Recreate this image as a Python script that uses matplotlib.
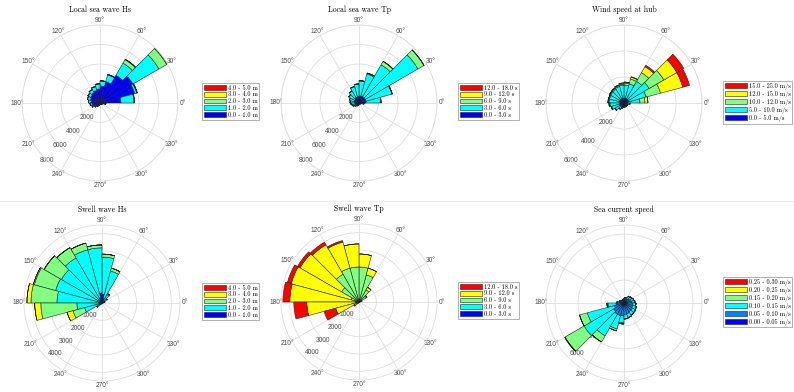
import numpy as np
import matplotlib.pyplot as plt
from matplotlib.patches import Patch
from matplotlib.lines import Line2D

W, H = 794, 392

# direction sectors (start angle, degrees), 15 deg wide
sectors = np.arange(0, 360, 15)

c5 = ['#0000ff', '#00ffff', '#80ff80', '#ffff00', '#ff0000']
c6 = ['#0000ff', '#0080ff', '#00ffff', '#80ff80', '#ffff00', '#ff0000']

hs_labels = ['0.0 - 1.0 m', '1.0 - 2.0 m', '2.0 - 3.0 m', '3.0 - 4.0 m', '4.0 - 5.0 m']
tp_labels = ['0.0 - 3.0 s', '3.0 - 6.0 s', '6.0 - 9.0 s', '9.0 - 12.0 s', '12.0 - 18.0 s']
ws_labels = ['0.0 - 5.0 m/s', '5.0 - 10.0 m/s', '10.0 - 12.0 m/s', '12.0 - 15.0 m/s', '15.0 - 25.0 m/s']
cur_labels = ['0.00 - 0.05 m/s', '0.05 - 0.10 m/s', '0.10 - 0.15 m/s',
              '0.15 - 0.20 m/s', '0.20 - 0.25 m/s', '0.25 - 0.30 m/s']

# occurrences per sector for each class
# Local sea wave Hs
lhs_0_1 = [2150, 3690, 3900, 3280, 2260, 1740, 1440, 1330, 1230, 1130, 1030, 920,
           820, 720, 510, 360, 250, 200, 150, 150, 150, 200, 250, 500]
lhs_1_2 = [1330, 210, 3080, 1440, 720, 510, 510, 410, 360, 310, 310, 260,
           200, 150, 100, 50, 20, 0, 0, 0, 0, 0, 0, 100]
lhs_2_3 = [50, 50, 920, 410, 50, 30, 20, 20, 10, 10, 10, 10,
           0, 0, 0, 0, 0, 0, 0, 0, 0, 0, 0, 0]
lhs_3_4 = [0, 0, 70, 50, 0, 0, 0, 0, 0, 0, 0, 0,
           0, 0, 0, 0, 0, 0, 0, 0, 0, 0, 0, 0]
lhs_4_5 = [0] * 24

# Local sea wave Tp
ltp_0_3 = [720, 720, 720, 720, 720, 720, 670, 620, 620, 510, 510, 460,
           410, 360, 310, 260, 200, 150, 150, 150, 150, 150, 150, 310]
ltp_3_6 = [1540, 2770, 6260, 3800, 2360, 1540, 1280, 1130, 820, 720, 510, 460,
           410, 310, 200, 100, 50, 0, 0, 0, 0, 0, 0, 200]
ltp_6_9 = [0, 40, 720, 410, 100, 30, 0, 0, 0, 0, 0, 0,
           0, 0, 0, 0, 0, 0, 0, 0, 0, 0, 0, 0]
ltp_9_12 = [0] * 24
ltp_12_18 = [0] * 24

# Wind speed at hub
ws_0_5 = [310, 380, 380, 380, 380, 380, 380, 350, 350, 350, 350, 350,
          350, 350, 350, 350, 350, 310, 310, 310, 310, 310, 310, 310]
ws_5_10 = [920, 1380, 1850, 1540, 1150, 1000, 1000, 960, 880, 850, 810, 810,
           730, 620, 420, 190, 80, 0, 0, 0, 0, 0, 0, 150]
ws_10_12 = [380, 1150, 1310, 770, 380, 150, 80, 80, 80, 60, 50, 50,
            50, 40, 30, 20, 0, 0, 0, 0, 0, 0, 0, 0]
ws_12_15 = [230, 1770, 1150, 540, 150, 80, 80, 40, 40, 40, 30, 30,
            30, 20, 20, 0, 0, 0, 0, 0, 0, 0, 0, 0]
ws_15_25 = [0, 540, 620, 120, 40, 0, 0, 0, 0, 0, 0, 0,
            0, 0, 0, 0, 0, 0, 0, 0, 0, 0, 0, 0]

# Swell wave Hs
shs_0_1 = [60, 60, 120, 170, 290, 520, 580, 290, 170, 170, 120, 120,
           120, 60, 60, 30, 30, 30, 30, 30, 30, 30, 30, 30]
shs_1_2 = [60, 120, 230, 400, 1620, 2130, 2600, 2890, 2830, 2540, 2650, 2480,
           1330, 980, 170, 90, 0, 0, 0, 0, 0, 0, 0, 0]
shs_2_3 = [0, 0, 0, 60, 170, 170, 170, 400, 690, 1150, 1270, 1500,
           2080, 690, 120, 0, 0, 0, 0, 0, 0, 0, 0, 0]
shs_3_4 = [0, 0, 0, 0, 0, 0, 0, 0, 0, 0, 60, 230,
           350, 350, 0, 0, 0, 0, 0, 0, 0, 0, 0, 0]
shs_4_5 = [0] * 24

# Swell wave Tp
stp_0_3 = [60, 60, 60, 60, 60, 60, 60, 60, 60, 60, 60, 60,
           60, 60, 60, 30, 30, 30, 30, 30, 30, 30, 30, 30]
stp_3_6 = [30, 30, 60, 60, 60, 60, 60, 60, 60, 60, 60, 60,
           60, 60, 30, 30, 0, 0, 0, 0, 0, 0, 0, 0]
stp_6_9 = [30, 90, 350, 690, 1500, 1900, 1900, 1900, 1730, 1040, 350, 120,
           60, 60, 30, 0, 0, 0, 0, 0, 0, 0, 0, 0]
stp_9_12 = [0, 0, 60, 170, 400, 750, 1330, 1560, 1960, 2770, 3580, 3750,
            2830, 1210, 170, 30, 0, 0, 0, 0, 0, 0, 0, 0]
stp_12_18 = [0, 0, 0, 0, 0, 0, 0, 90, 170, 170, 230, 400,
             750, 690, 60, 0, 0, 0, 0, 0, 0, 0, 0, 0]

# Sea current speed
cs_00_05 = [260, 260, 260, 260, 220, 220, 170, 170, 170, 170, 170, 220,
            260, 260, 260, 260, 260, 260, 260, 260, 260, 260, 260, 260]
cs_05_10 = [440, 350, 260, 170, 130, 90, 90, 90, 90, 130, 170, 220,
            440, 610, 780, 870, 870, 870, 780, 700, 610, 610, 520, 520]
cs_10_15 = [260, 260, 260, 260, 170, 130, 90, 40, 40, 40, 90, 170,
            700, 2440, 2970, 2180, 1220, 610, 350, 350, 350, 310, 350, 260]
cs_15_20 = [0, 0, 0, 0, 0, 0, 0, 0, 0, 0, 0, 0,
            90, 700, 1920, 610, 170, 90, 0, 0, 0, 0, 0, 0]
cs_20_25 = [0, 0, 0, 0, 0, 0, 0, 0, 0, 0, 0, 0,
            0, 0, 40, 0, 0, 0, 0, 0, 0, 0, 0, 0]
cs_25_30 = [0] * 24

panels = [
    ('Local sea wave Hs', [lhs_0_1, lhs_1_2, lhs_2_3, lhs_3_4, lhs_4_5], c5, hs_labels,
     8000, [2000, 4000, 6000, 8000], (100, 103), (202, 83)),
    ('Local sea wave Tp', [ltp_0_3, ltp_3_6, ltp_6_9, ltp_9_12, ltp_12_18], c5, tp_labels,
     8000, [2000, 4000, 6000, 8000], (359, 103), (458, 83)),
    ('Wind speed at hub', [ws_0_5, ws_5_10, ws_10_12, ws_12_15, ws_15_25], c5, ws_labels,
     6000, [2000, 4000, 6000], (624, 103), (723, 81)),
    ('Swell wave Hs', [shs_0_1, shs_1_2, shs_2_3, shs_3_4, shs_4_5], c5, hs_labels,
     4500, [1000, 2000, 3000, 4000], (102, 303), (202, 283)),
    ('Swell wave Tp', [stp_0_3, stp_3_6, stp_6_9, stp_9_12, stp_12_18], c5, tp_labels,
     4500, [1000, 2000, 3000, 4000], (359, 302), (458, 282)),
    ('Sea current speed', [cs_00_05, cs_05_10, cs_10_15, cs_15_20, cs_20_25, cs_25_30], c6, cur_labels,
     6800, [2000, 4000, 6000], (624, 303), (723, 277)),
]

serif = ['cmr10', 'DejaVu Serif']
sans = ['Liberation Sans', 'DejaVu Sans']
R = 78  # circle radius in pixels

fig = plt.figure(figsize=(W / 100, H / 100), dpi=100)

for title, data, colors, labels, rmax, rticks, (cx, cy), (lx, ly) in panels:
    ax = fig.add_axes([(cx - R) / W, (H - cy - R) / H, 2 * R / W, 2 * R / H], projection='polar')
    ax.set_axisbelow(True)
    theta = np.deg2rad(sectors + 7.5)
    bottom = np.zeros(len(sectors))
    handles = []
    for vals, col, lab in zip(data, colors, labels):
        vals = np.array(vals, dtype=float)
        ax.bar(theta, vals, width=np.deg2rad(15), bottom=bottom, color=col,
               edgecolor='#202020', linewidth=0.4, zorder=2)
        bottom += vals
        handles.append(Patch(facecolor=col, edgecolor='#202020', linewidth=0.4, label=lab))

    ax.set_ylim(0, rmax)
    ax.set_yticks(rticks)
    ax.set_yticklabels([])
    # radial labels sit under the bars, like the original
    for t in rticks:
        ax.text(np.deg2rad(227), t, str(t), ha='center', va='center', fontsize=4.8,
                family=sans, color='#4d4d4d', zorder=1)
    ax.set_thetagrids(range(0, 360, 30))
    ax.tick_params(axis='x', labelsize=4.8, colors='#4d4d4d', length=0, pad=-3.5)
    for t in ax.get_xticklabels():
        t.set_family(sans)
    ax.grid(color='#dedede', linewidth=0.6)
    ax.spines['polar'].set_color('#dedede')
    ax.spines['polar'].set_linewidth(0.6)

    ax.text(0.5, 1.096, title, transform=ax.transAxes, ha='center', va='center',
            fontsize=5.6, family=serif)

    leg = ax.legend(handles[::-1], labels[::-1], loc='upper left',
                    bbox_to_anchor=(lx / W, 1 - ly / H), bbox_transform=fig.transFigure,
                    prop={'family': serif, 'size': 4.5}, fancybox=False, edgecolor='#8c8c8c',
                    handlelength=3.5, handleheight=0.8, labelspacing=0.15,
                    handletextpad=0.3, borderpad=0.3, borderaxespad=0)
    leg.get_frame().set_linewidth(0.6)

# faint separator between the two rows
fig.add_artist(Line2D([0, 1], [1 - 201 / H, 1 - 201 / H], color='#ececec', linewidth=0.6))

fig.savefig('out.png', dpi=100)
